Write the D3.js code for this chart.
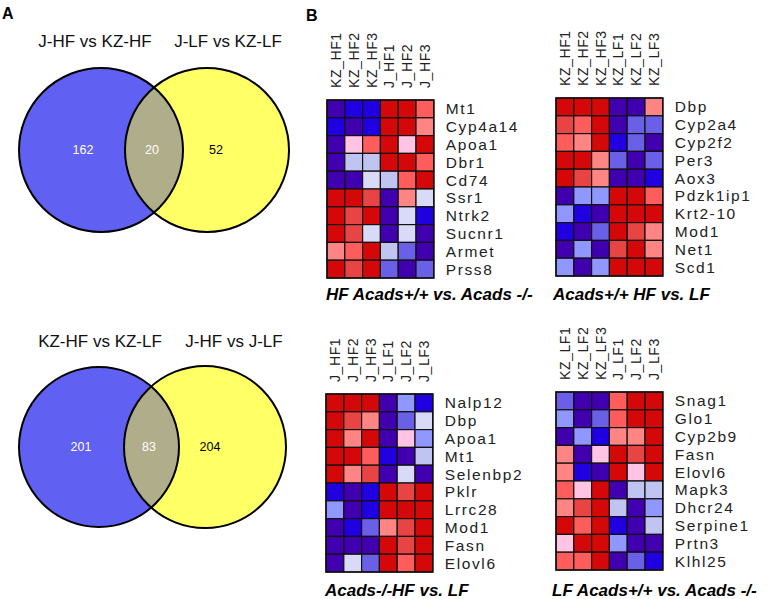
<!DOCTYPE html>
<html><head><meta charset="utf-8">
<script src="https://cdn.jsdelivr.net/npm/d3@7"></script>
<style>
html,body{margin:0;padding:0;background:#fff;}
svg{display:block;}
</style></head>
<body>
<svg id="chart" width="773" height="599"></svg>
<script>
// ---------- DATA ----------
const venn1Titles = ["J-HF vs KZ-HF", "J-LF vs KZ-LF"];
const venn1Counts = [162, 20, 52];
const venn2Titles = ["KZ-HF vs KZ-LF", "J-HF vs J-LF"];
const venn2Counts = [201, 83, 204];

const hm1Title = "HF Acads+/+ vs. Acads -/-";
const hm1Cols = ["KZ_HF1","KZ_HF2","KZ_HF3","J_HF1","J_HF2","J_HF3"];
const hm1Rows = ["Mt1","Cyp4a14","Apoa1","Dbr1","Cd74","Ssr1","Ntrk2","Sucnr1","Armet","Prss8"];
const hm1Values = [
  [-3,-2.5,-2.5,3,3,2],
  [-2.5,-3,-2.5,3,3,1.5],
  [-3,1,2,3,1,3],
  [-3,-1,-1,3,3,2],
  [-3,-3,-0.8,-1,2,3],
  [3,3,2.5,-3,1.5,-0.8],
  [3,2.5,3,-3,-0.8,-2.5],
  [3,2.5,-0.8,-3,-0.8,-3],
  [1.5,2,3,-1,-2,-3],
  [3,2.5,3,-2,-3,-2]
];

const hm2Title = "Acads+/+ HF vs. LF";
const hm2Cols = ["KZ_HF1","KZ_HF2","KZ_HF3","KZ_LF1","KZ_LF2","KZ_LF3"];
const hm2Rows = ["Dbp","Cyp2a4","Cyp2f2","Per3","Aox3","Pdzk1ip1","Krt2-10","Mod1","Net1","Scd1"];
const hm2Values = [
  [3,3,3,-3,-3,1.5],
  [2.5,2,3,-3,-2,-2],
  [2,1.5,3,-2.5,-2,-3],
  [3,3,1.5,-2,-3,-2],
  [3,2.5,1.5,-3,-3,-2.5],
  [-3,-1.5,-1.5,3,3,2],
  [-1.5,-2.5,-3,3,3,3],
  [-2.5,-3,-2,3,2.5,1.5],
  [-3,-1.5,-3,2.5,3,1.5],
  [-1.5,-3,-1.5,3,3,3]
];

const hm3Title = "Acads-/-HF vs. LF";
const hm3Cols = ["J_HF1","J_HF2","J_HF3","J_LF1","J_LF2","J_LF3"];
const hm3Rows = ["Nalp12","Dbp","Apoa1","Mt1","Selenbp2","Pklr","Lrrc28","Mod1","Fasn","Elovl6"];
const hm3Values = [
  [3,3,3,-3,-1.5,-2.5],
  [3,2.5,1.5,-3,-2,-0.8],
  [3,1.5,3,-3,1,-1.5],
  [3,3,2,-2.5,-3,-1],
  [3,1.5,2.5,-3,-0.8,-3],
  [-2.5,-3,-2.5,3,2.5,3],
  [-1.5,-3,-2.5,3,3,3],
  [-3,-2.5,-2,1.5,2.5,3],
  [-3,-3,-3,3,2.5,3],
  [-3,-0.8,-2,3,2,3]
];

const hm4Title = "LF Acads+/+ vs. Acads -/-";
const hm4Cols = ["KZ_LF1","KZ_LF2","KZ_LF3","J_LF1","J_LF2","J_LF3"];
const hm4Rows = ["Snag1","Glo1","Cyp2b9","Fasn","Elovl6","Mapk3","Dhcr24","Serpine1","Prtn3","Klhl25"];
const hm4Values = [
  [-2,-3,-3,2,3,3],
  [-1.5,-3,-2,2,3,3],
  [-3,-1.5,-2.5,1.5,1.5,3],
  [1.5,-3,1,3,2.5,3],
  [1.5,-2.5,-3,3,1,3],
  [2,1,3,-3,-1,-1],
  [1.5,2.5,3,-1,-3,-1.5],
  [3,2,3,-2.5,-3,-1],
  [1,3,3,-1.5,-3,-3],
  [2,2,3,-3,-2,-2.5]
];

// ---------- STYLE / LAYOUT ----------
const svg = d3.select("#chart");
svg.append("rect").attr("width",773).attr("height",599).attr("fill","#fff");

const color = d3.scaleLinear()
  .domain([-3,-2.5,-2,-1.5,-1,-0.8,1,1.5,2,2.5,3])
  .range(["#4000b0","#2000e0","#6a60e8","#9098ff","#c0c4f0","#d8daf8","#ffc4e4","#ff8585","#ff5c5c","#e84444","#d40808"])
  .clamp(true);

const sans = "'Liberation Sans', Arial, Helvetica, sans-serif";

// panel letters
svg.append("text").attr("x",2).attr("y",19).text("A")
  .attr("font-family",sans).attr("font-weight","bold").attr("font-size",16);
svg.append("text").attr("x",306).attr("y",21).text("B")
  .attr("font-family",sans).attr("font-weight","bold").attr("font-size",16);

// ---------- VENN ----------
function venn(id, titles, counts, cfg){
  const g = svg.append("g");
  const x = d3.scaleLinear().domain([0,1]).range([cfg.x0, cfg.x1]);
  const circles = [{cx:x(0), r:cfg.r0, fill:"#6060f2"}, {cx:x(1), r:cfg.r1, fill:"#ffff66"}];
  g.selectAll("circle.base").data(circles).join("circle")
    .attr("cx",d=>d.cx).attr("cy",cfg.cy).attr("r",d=>d.r).attr("fill",d=>d.fill);
  const clipId = "clip"+id;
  g.append("clipPath").attr("id",clipId).append("circle")
    .attr("cx",circles[0].cx).attr("cy",cfg.cy).attr("r",circles[0].r);
  g.append("circle").attr("cx",circles[1].cx).attr("cy",cfg.cy).attr("r",circles[1].r)
    .attr("fill","#b0ae8a").attr("clip-path",`url(#${clipId})`);
  g.selectAll("circle.edge").data(circles).join("circle").attr("class","edge")
    .attr("cx",d=>d.cx).attr("cy",cfg.cy).attr("r",d=>d.r)
    .attr("fill","none").attr("stroke","#000").attr("stroke-width",2);
  g.selectAll("text.num").data(counts).join("text").attr("class","num")
    .attr("x",(d,i)=>cfg.nx[i]).attr("y",cfg.cy+4)
    .attr("text-anchor","middle").attr("font-family",sans).attr("font-size",12.5)
    .attr("fill",(d,i)=>i<2?"#fff":"#000").text(d=>d);
  g.selectAll("text.title").data(titles).join("text").attr("class","title")
    .attr("x",(d,i)=>cfg.tx[i]).attr("y",cfg.ty)
    .attr("text-anchor","middle").attr("font-family",sans).attr("font-size",17)
    .attr("fill","#111").text(d=>d);
}
venn(1, venn1Titles, venn1Counts, {x0:101, x1:207, cy:150, r0:82, r1:82, nx:[83,152,216], tx:[95,228], ty:47});
venn(2, venn2Titles, venn2Counts, {x0:99, x1:205, cy:447, r0:80, r1:81, nx:[81,149,210], tx:[100,234], ty:347});

// ---------- HEATMAPS ----------
const cell = 17.8;
function heatmap(title, cols, rows, values, cfg){
  const g = svg.append("g");
  const x = d3.scaleBand().domain(cols).range([cfg.left, cfg.left + cell*cols.length]);
  const y = d3.scaleBand().domain(rows).range([cfg.top, cfg.top + cell*rows.length]);
  const cells = [];
  values.forEach((row,ri)=>row.forEach((v,ci)=>cells.push({r:rows[ri], c:cols[ci], v})));
  g.selectAll("rect.cell").data(cells).join("rect").attr("class","cell")
    .attr("x",d=>x(d.c)).attr("y",d=>y(d.r))
    .attr("width",x.bandwidth()).attr("height",y.bandwidth())
    .attr("fill",d=>color(d.v)).attr("stroke","#111").attr("stroke-width",1.2);
  g.append("rect").attr("x",cfg.left).attr("y",cfg.top)
    .attr("width",cell*cols.length).attr("height",cell*rows.length)
    .attr("fill","none").attr("stroke","#111").attr("stroke-width",1.5);
  // column labels (rotated, reading bottom-to-top)
  g.selectAll("text.col").data(cols).join("text").attr("class","col")
    .attr("transform",d=>`translate(${x(d)+x.bandwidth()/2+5},${cfg.top-12}) rotate(-90)`)
    .attr("text-anchor","start").attr("font-family",sans).attr("font-size",14)
    .attr("letter-spacing",0.6).attr("fill","#222").text(d=>d);
  // row labels
  const right = cfg.left + cell*cols.length;
  g.selectAll("text.row").data(rows).join("text").attr("class","row")
    .attr("x",right+12).attr("y",d=>y(d)+y.bandwidth()/2+5.5)
    .attr("font-family",sans).attr("font-size",15.5)
    .attr("letter-spacing",1.6).attr("fill","#222").text(d=>d);
  // title
  g.append("text").attr("x",cfg.tx).attr("y",cfg.ty)
    .attr("font-family",sans).attr("font-weight","bold").attr("font-style","italic")
    .attr("font-size",17).attr("fill","#000").text(title);
}
heatmap(hm1Title, hm1Cols, hm1Rows, hm1Values, {left:327, top:100, tx:326, ty:300});
heatmap(hm2Title, hm2Cols, hm2Rows, hm2Values, {left:556, top:98, tx:553, ty:300});
heatmap(hm3Title, hm3Cols, hm3Rows, hm3Values, {left:326, top:394, tx:325, ty:596});
heatmap(hm4Title, hm4Cols, hm4Rows, hm4Values, {left:556, top:392, tx:552, ty:596});
</script>
</body></html>
